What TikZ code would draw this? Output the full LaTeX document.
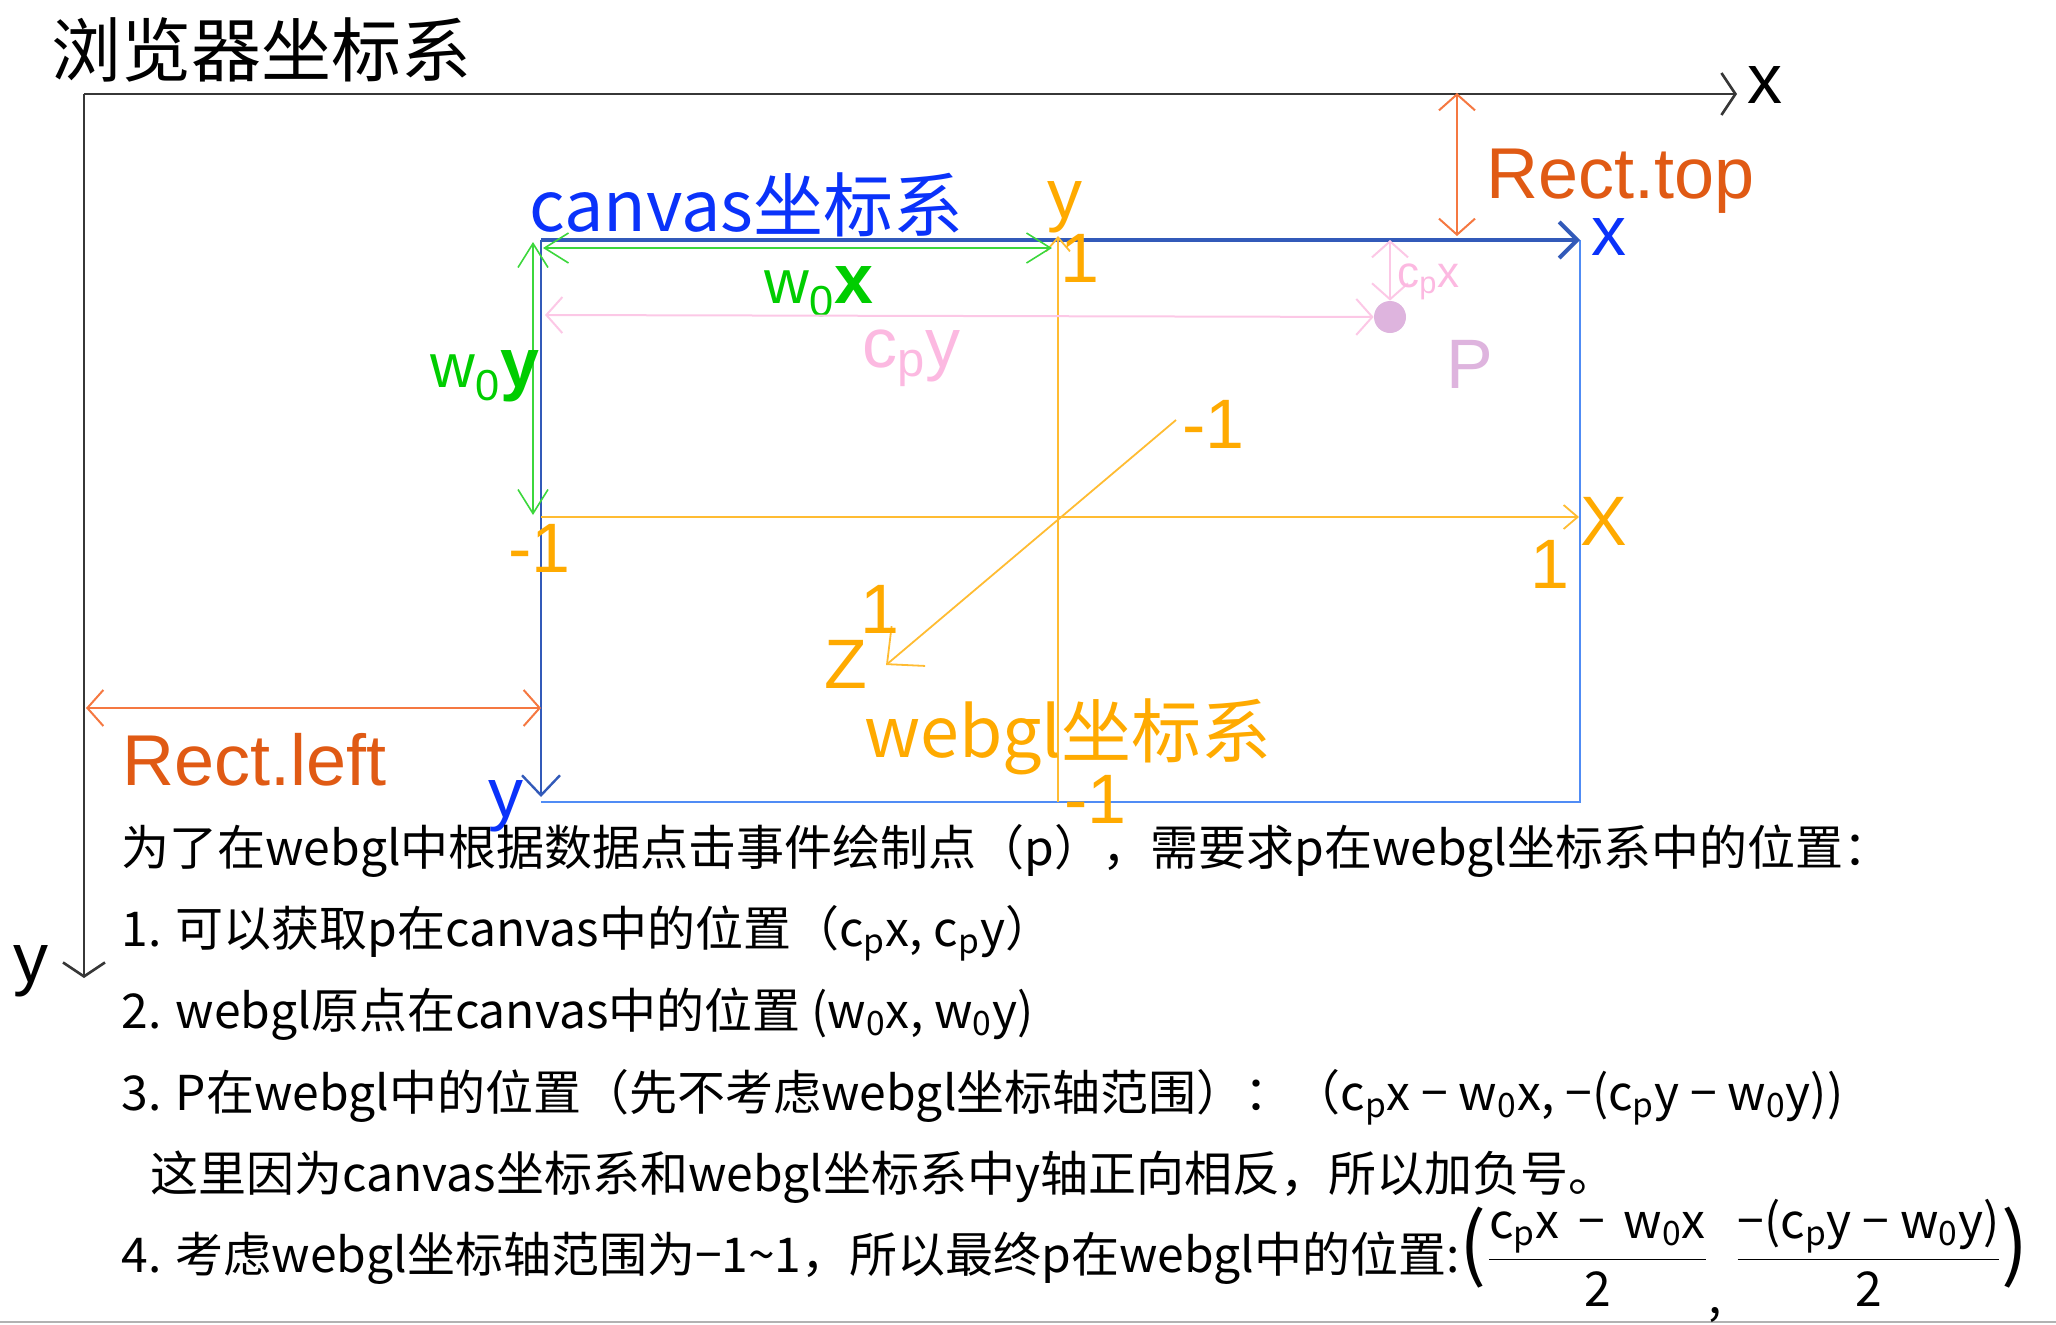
\documentclass[tikz,border=0pt]{standalone}
\usepackage{fontspec}
\setmainfont{Liberation Sans}
\newfontfamily\cjk{Noto Sans CJK SC}
\usetikzlibrary{arrows.meta, positioning}

\definecolor{axisgray}{RGB}{55,55,55}
\definecolor{cvblue}{RGB}{10,50,250}
\definecolor{cvedge}{RGB}{80,140,245}
\definecolor{cvaxis}{RGB}{50,90,185}
\definecolor{gltext}{RGB}{255,170,0}
\definecolor{glline}{RGB}{255,188,50}
\definecolor{wgreen}{RGB}{0,205,0}
\definecolor{wline}{RGB}{60,215,60}
\definecolor{cppink}{RGB}{252,185,225}
\definecolor{cpline}{RGB}{252,200,230}
\definecolor{ppurple}{RGB}{222,180,222}
\definecolor{rectred}{RGB}{224,90,20}
\definecolor{rectline}{RGB}{245,120,65}
\newcommand{\fsz}[1]{\fontsize{#1}{#1}\selectfont}

\begin{document}
\begin{tikzpicture}[x=0.5pt, y=-0.5pt,
    axisline/.style={->, axisgray, line width=1.3pt, >={Straight Barb[length=7pt, width=21pt]}},
    dimarrow/.style={<->, line width=1pt, >={Straight Barb[length=8pt, width=18pt]}},
    glarrow/.style={->, glline, line width=0.9pt, >={Straight Barb[length=7pt, width=12pt]}},
    lbl/.style={inner sep=0pt, anchor=base west, font=\fsz{35}},
    txt/.style={inner sep=0pt, anchor=base west, font=\cjk\fsz{24}}]
    \useasboundingbox (0,0) rectangle (2056,1324);
    \draw[gray!60, line width=1pt] (0,1322) -- (2056,1322);

    % 浏览器坐标系
    \node[lbl, font=\cjk\fsz{35}] (title) at (51,76) {浏览器坐标系};
    \coordinate (O) at (84,94);
    \coordinate (bx) at (1737,94);
    \coordinate (by) at (84,978);
    \draw[axisline] (O) -- (bx);
    \draw[axisline] (O) -- (by);
    \node[lbl] (bxl) at (1747,103) {x};
    \node[lbl] (byl) at (13,982) {y};

    % canvas坐标系
    \coordinate (cTL) at (541,240);
    \coordinate (cTR) at (1580,240);
    \coordinate (cBL) at (541,802);
    \coordinate (cBR) at (1580,802);
    \coordinate (cY) at (541,797);
    \draw[cvedge, line width=1.2pt] (cTR) -- (cBR) -- (cBL);
    \draw[->, cvaxis, line width=2pt, >={Straight Barb[length=9pt, width=18pt]}] (cTL) -- (cTR);
    \draw[->, cvaxis, line width=1.2pt, >={Straight Barb[length=10pt, width=19pt]}] (cTL) -- (cY);
    \node[lbl, font=\cjk\fsz{35}, text=cvblue] (cvtitle) at (529,231) {canvas坐标系};
    \node[lbl, text=cvblue] (cvx) at (1591,255) {x};
    \node[lbl, text=cvblue] (cvy) at (488,817) {y};

    % webgl坐标系
    \coordinate (wL) at (541,517);
    \coordinate (wR) at (1579,517);
    \coordinate (wB) at (1058,802);
    \coordinate (wT) at (1058,236);
    \coordinate (zA) at (1176,420);
    \coordinate (zB) at (886,665);
    \draw[glarrow] (wL) -- (wR);
    \draw[glarrow] (wB) -- (wT);
    \draw[glarrow, >={Straight Barb[length=14pt, width=26pt]}] (zA) -- (zB);
    \node[lbl, text=gltext] (gly) at (1047,218) {y};
    \node[lbl, text=gltext] (glyt) at (1060,282) {1};
    \node[lbl, text=gltext] (glxl) at (508,572) {-1};
    \node[lbl, text=gltext] (glxr) at (1530,588) {1};
    \node[lbl, text=gltext] (glx) at (1580,545) {X};
    \node[lbl, text=gltext] (glyb) at (1064,823) {-1};
    \node[lbl, text=gltext] (glzt) at (1182,448) {-1};
    \node[lbl, text=gltext] (glzb) at (860,633) {1};
    \node[lbl, text=gltext] (glz) at (824,688) {Z};
    \node[lbl, font=\cjk\fsz{35}, text=gltext] (gltitle) at (864,757) {webgl坐标系};

    % 原点偏移 w0
    \coordinate (gA) at (543,248);
    \coordinate (gB) at (1052,248);
    \coordinate (gC) at (533,242);
    \coordinate (gD) at (533,515);
    \draw[dimarrow, wline, line width=0.8pt, >={Straight Barb[length=12pt, width=15pt]}] (gA) -- (gB);
    \draw[dimarrow, wline, line width=0.8pt, >={Straight Barb[length=12pt, width=15pt]}] (gC) -- (gD);
    \node[lbl, text=wgreen] (w0x) at (764,303) {{\fsz{31}w\textsubscript{0}}{\bfseries x}};
    \node[lbl, text=wgreen] (w0y) at (430,387) {{\fsz{31}w\textsubscript{0}}{\bfseries y}};

    % 点 P
    \node[circle, fill=ppurple, minimum size=16pt, inner sep=0pt] (P) at (1390,317) {};
    \coordinate (pA) at (545,315);
    \coordinate (pT) at (1390,240);
    \draw[dimarrow, cpline, line width=1pt] (pA) -- (P);
    \draw[dimarrow, cpline, line width=1pt] (pT) -- (P);
    \node[lbl, text=cppink] (cpy) at (862,367) {c\textsubscript{p}y};
    \node[lbl, font=\fsz{22}, text=cppink] (cpx) at (1397,287) {c\textsubscript{p}x};
    \node[lbl, text=ppurple] (plbl) at (1446,388) {P};

    % Rect.top / Rect.left
    \coordinate (rT1) at (1457,93);
    \coordinate (rT2) at (1457,236);
    \coordinate (rL1) at (86,708);
    \coordinate (rL2) at (541,708);
    \draw[dimarrow, rectline] (rT1) -- (rT2);
    \draw[dimarrow, rectline] (rL1) -- (rL2);
    \node[lbl, font=\fsz{36}, text=rectred] (rtop) at (1486,198) {Rect.top};
    \node[lbl, font=\fsz{36}, text=rectred] (rleft) at (122,785) {Rect.left};

    % 说明文字
    \node[txt] (l1) at (121,865) {为了在webgl中根据数据点击事件绘制点（p），需要求p在webgl坐标系中的位置：};
    \node[txt] (l2) at (121,946) {1. 可以获取p在canvas中的位置（c\textsubscript{p}x, c\textsubscript{p}y）};
    \node[txt] (l3) at (121,1028) {2. webgl原点在canvas中的位置 (w\textsubscript{0}x, w\textsubscript{0}y)};
    \node[txt] (l4) at (121,1110) {3. P在webgl中的位置（先不考虑webgl坐标轴范围）：（c\textsubscript{p}x − w\textsubscript{0}x, −(c\textsubscript{p}y − w\textsubscript{0}y))};
    \node[txt] (l5) at (150,1191) {这里因为canvas坐标系和webgl坐标系中y轴正向相反，所以加负号。};
    \node[txt] (l6) at (121,1272) {4. 考虑webgl坐标轴范围为−1\textasciitilde1，所以最终p在webgl中的位置:{\fsz{40}(}$\displaystyle\frac{\mbox{c\textsubscript{p}x \,−\, w\textsubscript{0}x}}{\mbox{2}}\raisebox{-1.6ex}{,}\;\frac{\mbox{−(c\textsubscript{p}y − w\textsubscript{0}y)}}{\mbox{2}}${\fsz{40})}};
\end{tikzpicture}
\end{document}
